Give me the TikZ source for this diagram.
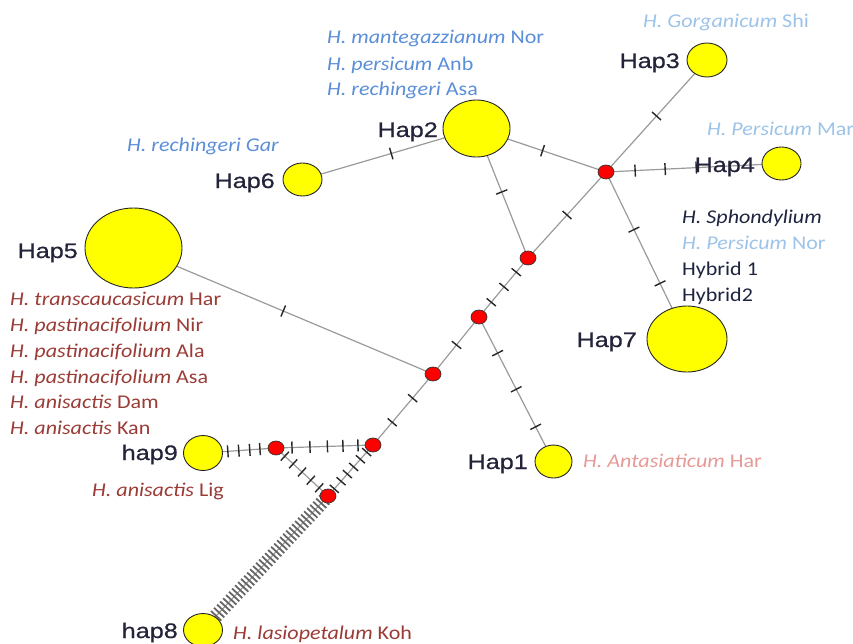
\documentclass[tikz,border=0pt]{standalone}
\usepackage{fontspec}
\setmainfont{Carlito}[FakeStretch=1.13]
\newfontfamily\hapfont[FakeStretch=1.2,FakeBold=0.6]{Liberation Sans}
\usetikzlibrary{shapes.geometric,decorations.markings,backgrounds}
\definecolor{hapyellow}{HTML}{FFFF00}
\definecolor{blueA}{HTML}{5B8ED8}
\definecolor{blueB}{HTML}{9DC3E8}
\definecolor{navy}{HTML}{1E2440}
\definecolor{brick}{HTML}{9A3B36}
\definecolor{salmon}{HTML}{E59A98}
\definecolor{edgegray}{HTML}{9A9A9A}
\definecolor{haptext}{HTML}{23233A}
\tikzset{
 hap/.style={ellipse, draw=black!85, line width=0.9pt, fill=hapyellow, inner sep=0pt},
 mv/.style={ellipse, draw=black!80, line width=0.7pt, fill=red, minimum width=16pt, minimum height=14pt, inner sep=0pt},
 haplab/.style={font=\hapfont\fontsize{21}{24}\selectfont, text=haptext, inner sep=0pt, anchor=base east},
 sp/.style={font=\fontsize{19.5}{24}\selectfont, inner sep=0pt, anchor=base west},
 edge/.style={draw=edgegray, line width=1.2pt},
 tk/.style={postaction={decorate,decoration={markings,mark=at position #1 with {\draw[black!85,line width=1.4pt] (0,-6pt)--(0,6pt);}}}},
 ladder/.style={postaction={decorate,decoration={markings,mark=between positions 0.03 and 0.99 step 4.4pt with {\draw[black!60,line width=1.8pt] (0,-7pt)--(0,7pt);}}}},
}
\begin{document}
\begin{tikzpicture}[x=1pt,y=-1pt]
\path[use as bounding box] (0,0) rectangle (853,643);
\clip (0,0) rectangle (853,643);
% haplotypes
\node[hap, minimum width=67pt, minimum height=57pt] (hap2) at (476.5,128.5) {};
\node[hap, minimum width=40pt, minimum height=34pt] (hap3) at (707,60) {};
\node[hap, minimum width=39pt, minimum height=33pt] (hap4) at (781.5,163.5) {};
\node[hap, minimum width=39pt, minimum height=33pt] (hap6) at (302.5,179.5) {};
\node[hap, minimum width=97pt, minimum height=80pt] (hap5) at (133.5,248) {};
\node[hap, minimum width=80pt, minimum height=66pt] (hap7) at (687,339) {};
\node[hap, minimum width=37pt, minimum height=33pt] (hap1) at (553.5,461.5) {};
\node[hap, minimum width=39pt, minimum height=35pt] (hap9) at (203,453) {};
\node[hap, minimum width=39pt, minimum height=33pt] (hap8) at (203,630) {};
% median vectors
\node[mv] (mv1) at (606,172) {};
\node[mv] (mv2) at (528,258) {};
\node[mv] (mv3) at (479,317) {};
\node[mv] (mv4) at (433,374) {};
\node[mv] (mv5) at (373,445) {};
\node[mv] (mv6) at (276,448) {};
\node[mv] (mv7) at (328,496) {};
% connectors
\begin{scope}[on background layer]
\draw[edge, tk=0.5] (hap3.center) -- (mv1.center);
\draw[edge, tk/.list={0.166,0.337,0.514}] (mv1.center) -- (hap4.center);
\draw[edge, tk=0.51] (hap2.center) -- (mv1.center);
\draw[edge, tk=0.49] (hap2.center) -- (mv2.center);
\draw[edge, tk=0.5] (mv1.center) -- (mv2.center);
\draw[edge, tk/.list={0.345,0.667}] (mv1.center) -- (hap7.center);
\draw[edge, tk=0.49] (hap2.center) -- (hap6.center);
\draw[edge, tk/.list={0.24,0.49,0.75}] (mv2.center) -- (mv3.center);
\draw[edge, tk=0.49] (mv3.center) -- (mv4.center);
\draw[edge, tk/.list={0.25,0.5,0.76}] (mv3.center) -- (hap1.center);
\draw[edge, tk/.list={0.34,0.68}] (mv4.center) -- (mv5.center);
\draw[edge, tk=0.5] (hap5.center) -- (mv4.center);
\draw[edge, tk/.list={0.155,0.31,0.47,0.65,0.835}] (mv5.center) -- (mv6.center);
\draw[edge, tk/.list={0.22,0.36,0.51,0.66,0.82}] (mv6.center) -- (hap9.center);
\draw[edge, tk/.list={0.17,0.33,0.5,0.67,0.83}] (mv6.center) -- (mv7.center);
\draw[edge, tk/.list={0.14,0.28,0.43,0.57,0.71,0.86}] (mv5.center) -- (mv7.center);
\draw[edge, ladder] (mv7.center) -- (hap8.center);
\end{scope}
% haplotype labels
\node[haplab] (l2) at (438,137) {Hap2};
\node[haplab] (l3) at (680,68) {Hap3};
\node[haplab] (l4) at (755,172) {Hap4};
\node[haplab] (l6) at (275,188) {Hap6};
\node[haplab] (l5) at (78,258) {Hap5};
\node[haplab] (l7) at (637,347) {Hap7};
\node[haplab] (l1) at (528,469) {Hap1};
\node[haplab] (l9) at (178,460) {hap9};
\node[haplab] (l8) at (178,638) {hap8};
% species labels
\node[sp, text=blueA] (s2a) at (327,43) {\textit{H. mantegazzianum} Nor};
\node[sp, text=blueA] (s2b) at (327,70) {\textit{H. persicum} Anb};
\node[sp, text=blueA] (s2c) at (327,95) {\textit{H. rechingeri} Asa};
\node[sp, text=blueB] (s3) at (643,27) {\textit{H. Gorganicum} Shi};
\node[sp, text=blueB] (s4) at (707,135) {\textit{H. Persicum} Mar};
\node[sp, text=blueA] (s6) at (127,151) {\textit{H. rechingeri Gar}};
\node[sp, text=navy] (s7a) at (682,223) {\textit{H. Sphondylium}};
\node[sp, text=blueB] (s7b) at (682,249) {\textit{H. Persicum} Nor};
\node[sp, text=navy] (s7c) at (682,275) {Hybrid 1};
\node[sp, text=navy] (s7d) at (682,301) {Hybrid2};
\node[sp, text=brick] (s5a) at (10,305) {\textit{H. transcaucasicum} Har};
\node[sp, text=brick] (s5b) at (10,331) {\textit{H. pastinacifolium} Nir};
\node[sp, text=brick] (s5c) at (10,357) {\textit{H. pastinacifolium} Ala};
\node[sp, text=brick] (s5d) at (10,383) {\textit{H. pastinacifolium} Asa};
\node[sp, text=brick] (s5e) at (10,408) {\textit{H. anisactis} Dam};
\node[sp, text=brick] (s5f) at (10,434) {\textit{H. anisactis} Kan};
\node[sp, text=brick] (s9) at (92,496) {\textit{H. anisactis} Lig};
\node[sp, text=brick] (s8) at (233,639) {\textit{H. lasiopetalum} Koh};
\node[sp, text=salmon] (s1) at (583,467) {\textit{H. Antasiaticum} Har};
\end{tikzpicture}
\end{document}
